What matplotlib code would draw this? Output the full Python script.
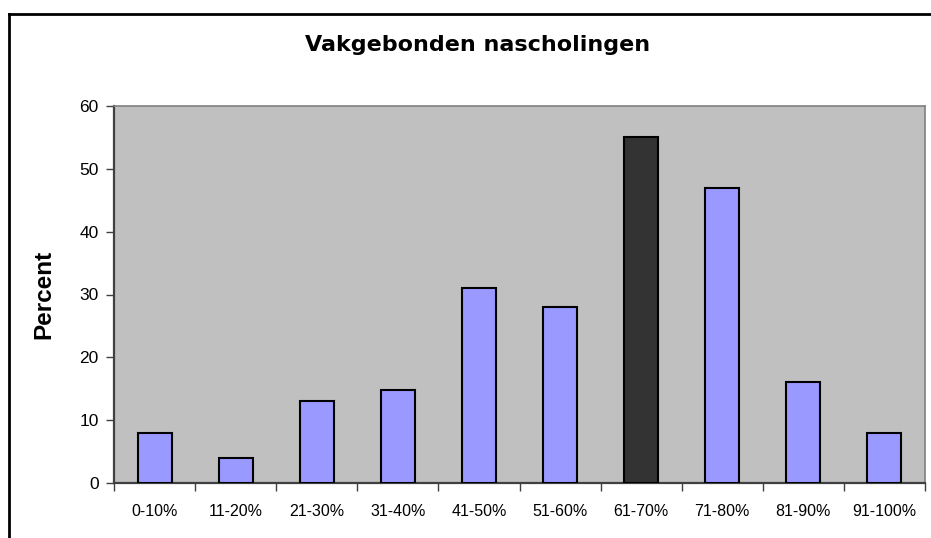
#=======================#
# Libraries importation #
#=======================#

import matplotlib
matplotlib.use("Agg")
import matplotlib.pyplot as plt
from matplotlib.lines import Line2D

#==================#
# Global variables #
#==================#

CATEGORIES = ["0-10%", "11-20%", "21-30%", "31-40%", "41-50%",
              "51-60%", "61-70%", "71-80%", "81-90%", "91-100%"]
PERCENTS = [8, 4, 13, 14.8, 31, 28, 55, 47, 16, 8]
HIGHLIGHT = "61-70%"
Y_TICKS = [0, 10, 20, 30, 40, 50, 60]

BAR_COLOR = "#9999FF"
HIGHLIGHT_COLOR = "#333333"
PLOT_BG = "#C0C0C0"

#==========#
# Plotting #
#==========#

fig = plt.figure(figsize=(9.31, 5.38), dpi=100)
ax = fig.add_axes([114 / 931, 1 - 483 / 538, 811 / 931, 377 / 538])
ax.set_facecolor(PLOT_BG)

x = list(range(len(CATEGORIES)))
colors = [HIGHLIGHT_COLOR if c == HIGHLIGHT else BAR_COLOR for c in CATEGORIES]
ax.bar(x, PERCENTS, width=0.42, color=colors, edgecolor="black", linewidth=1.5, zorder=3)

ax.set_xlim(-0.5, len(CATEGORIES) - 0.5)
ax.set_ylim(0, 60)
ax.set_yticks(Y_TICKS)

# category labels sit between the boundary ticks
ax.set_xticks([i - 0.5 for i in range(len(CATEGORIES) + 1)])
ax.set_xticklabels([])
ax.set_xticks(x, minor=True)
ax.set_xticklabels(CATEGORIES, minor=True, fontsize=11.5, family="Liberation Sans")
ax.tick_params(axis="x", which="minor", length=0, pad=15)
ax.tick_params(axis="x", which="major", length=6, width=1, color="#404040", direction="out")
ax.tick_params(axis="y", length=6, width=1, color="#404040", pad=5)
for lab in ax.get_yticklabels():
    lab.set_fontsize(12.5)
    lab.set_family("Liberation Sans")

ax.spines["left"].set_color("#404040")
ax.spines["left"].set_linewidth(1.6)
ax.spines["bottom"].set_color("#404040")
ax.spines["bottom"].set_linewidth(1.6)
ax.spines["top"].set_color("#808080")
ax.spines["top"].set_linewidth(1.2)
ax.spines["right"].set_color("#808080")
ax.spines["right"].set_linewidth(1.2)

ax.set_ylabel("Percent", fontsize=17.5, fontweight="bold", family="Liberation Sans", labelpad=17)

fig.text(478 / 931, 1 - 45 / 538, "Vakgebonden nascholingen", ha="center", va="center",
         fontsize=16, fontweight="bold", family="DejaVu Sans")

# outer chart frame (only top and left edges are visible in the crop)
fig.add_artist(Line2D([8.5 / 931, 8.5 / 931], [0, 1 - 13.5 / 538], color="black", lw=2,
                      transform=fig.transFigure, solid_capstyle="projecting"))
fig.add_artist(Line2D([8.5 / 931, 1], [1 - 13.5 / 538, 1 - 13.5 / 538], color="black", lw=2,
                      transform=fig.transFigure, solid_capstyle="projecting"))

fig.savefig("out.png", dpi=100)
